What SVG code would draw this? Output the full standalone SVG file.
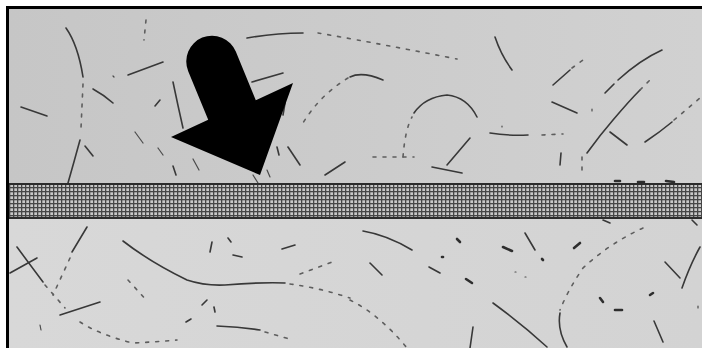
<svg xmlns="http://www.w3.org/2000/svg" width="702" height="348" viewBox="0 0 702 348">
<defs>
<style>
.f{fill:none;stroke:#383838;stroke-width:1.6;stroke-linecap:round}
.t{fill:none;stroke:#4a4a4a;stroke-width:1.2;stroke-linecap:round}
.d{fill:none;stroke:#5e5e5e;stroke-width:1.6;stroke-linecap:round;stroke-dasharray:3 7}
.k{fill:none;stroke:#2e2e2e;stroke-width:2.6;stroke-linecap:round}
</style>
<linearGradient id="gTop" x1="0" y1="0" x2="1" y2="0">
<stop offset="0" stop-color="#c6c6c6"/>
<stop offset="1" stop-color="#d1d1d1"/>
</linearGradient>
<linearGradient id="gBot" x1="0" y1="0" x2="1" y2="0">
<stop offset="0" stop-color="#d8d8d8"/>
<stop offset="1" stop-color="#d3d3d3"/>
</linearGradient>
<pattern id="mesh" x="9" y="183" width="4" height="4" patternUnits="userSpaceOnUse">
<rect width="4" height="4" fill="#c8c8c8"/>
<rect x="0" y="0" width="1.3" height="4" fill="#464646"/>
<rect x="0" y="0" width="4" height="1.3" fill="#464646"/>
</pattern>
</defs>
<rect width="702" height="348" fill="#ffffff"/>
<rect x="9" y="9" width="693" height="175" fill="url(#gTop)"/>
<rect x="9" y="218" width="693" height="130" fill="url(#gBot)"/>

<g id="fibers-top">
<path class="f" d="M66 28 Q78 45 83 77"/>
<path class="d" d="M83 84 L81 128"/>
<path class="f" d="M80 140 Q74 162 68 183"/>
<path class="f" d="M21 107 L47 116"/>
<path class="f" d="M93 89 Q104 95 113 103"/>
<path class="f" d="M128 75 L163 62"/>
<path class="t" d="M113 76 L114 77"/>
<path class="d" d="M146 20 L144 40"/>
<path class="f" d="M173 82 Q178 106 183 128"/>
<path class="f" d="M155 106 L160 100"/>
<path class="f" d="M85 146 L93 156"/>
<path class="t" d="M135 132 L143 143"/>
<path class="t" d="M158 148 L163 155"/>
<path class="f" d="M173 166 L176 175"/>
<path class="t" d="M193 159 L199 170"/>
<path class="f" d="M247 38 Q275 33 303 33"/>
<path class="d" d="M318 33 Q360 40 457 59"/>
<path class="f" d="M252 82 L283 73"/>
<path class="f" d="M285 103 L283 115"/>
<path class="f" d="M383 80 Q362 71 350 77"/>
<path class="d" d="M348 78 Q320 95 303 123"/>
<path class="f" d="M277 147 L279 155"/>
<path class="f" d="M288 147 L300 165"/>
<path class="f" d="M325 175 L345 162"/>
<path class="t" d="M267 170 L270 177"/>
<path class="t" d="M253 175 L258 183"/>
<path class="f" d="M495 37 Q501 55 512 70"/>
<path class="d" d="M403 157 Q405 130 412 117"/>
<path class="f" d="M414 113 Q425 97 447 95 Q467 97 477 117"/>
<path class="d" d="M373 157 L414 157"/>
<path class="f" d="M447 165 L470 138"/>
<path class="f" d="M432 167 L462 173"/>
<path class="f" d="M490 133 Q508 136 528 135"/>
<path class="t" d="M502 126 L502 127"/>
<path class="d" d="M542 135 L563 134"/>
<path class="f" d="M553 85 L570 70"/>
<path class="d" d="M572 68 L583 60"/>
<path class="f" d="M552 102 L577 113"/>
<path class="t" d="M592 109 L592 111"/>
<path class="f" d="M561 153 L560 165"/>
<path class="d" d="M582 157 L582 175"/>
<path class="f" d="M587 153 Q600 135 613 120 Q630 100 640 90"/>
<path class="d" d="M640 90 L650 80"/>
<path class="f" d="M605 93 L614 84"/>
<path class="f" d="M618 80 Q640 60 662 50"/>
<path class="f" d="M610 132 L627 145"/>
<path class="f" d="M645 142 Q660 132 672 122"/>
<path class="d" d="M674 120 L700 98"/>
</g>

<g id="fibers-bottom">
<path class="f" d="M17 247 Q28 262 43 282"/>
<path class="d" d="M45 285 L65 308"/>
<path class="f" d="M10 273 L37 258"/>
<path class="f" d="M87 227 Q78 242 72 252"/>
<path class="d" d="M70 258 L53 295"/>
<path class="f" d="M60 315 L100 302"/>
<path class="f" d="M123 241 Q150 262 187 280 Q205 286 225 285 Q262 282 285 283"/>
<path class="d" d="M290 284 Q320 288 350 298"/>
<path class="d" d="M128 280 L148 302"/>
<path class="d" d="M80 322 Q100 335 133 343 Q155 342 177 340"/>
<path class="f" d="M212 242 L210 252"/>
<path class="f" d="M228 238 L231 242"/>
<path class="f" d="M233 255 L242 257"/>
<path class="f" d="M282 249 L295 245"/>
<path class="d" d="M300 274 L332 262"/>
<path class="f" d="M202 305 L207 300"/>
<path class="f" d="M214 307 L215 312"/>
<path class="f" d="M186 322 L191 319"/>
<path class="f" d="M217 326 Q240 327 260 330"/>
<path class="d" d="M265 332 L293 340"/>
<path class="t" d="M40 325 L41 330"/>
<path class="f" d="M363 231 Q387 235 412 250"/>
<path class="f" d="M370 263 L382 275"/>
<path class="f" d="M429 267 L440 273"/>
<path class="k" d="M466 279 L472 283"/>
<path class="k" d="M457 239 L460 242"/>
<path class="k" d="M442 257 L443 257"/>
<path class="k" d="M503 247 L512 251"/>
<path class="f" d="M525 233 L535 250"/>
<path class="k" d="M542 259 L543 260"/>
<path class="k" d="M574 248 L580 243"/>
<path class="t" d="M515 272 L516 272"/>
<path class="t" d="M525 277 L526 277"/>
<path class="d" d="M643 228 Q610 243 583 268 Q568 290 560 310"/>
<path class="f" d="M560 313 Q557 330 567 347"/>
<path class="f" d="M493 303 Q523 325 547 347"/>
<path class="d" d="M350 300 Q380 315 407 348"/>
<path class="f" d="M473 327 L470 348"/>
<path class="k" d="M600 298 L603 302"/>
<path class="k" d="M615 310 L622 310"/>
<path class="k" d="M650 295 L653 293"/>
<path class="f" d="M665 262 L680 278"/>
<path class="f" d="M700 247 Q690 265 682 288"/>
<path class="f" d="M654 321 L663 342"/>
<path class="f" d="M603 220 L610 223"/>
<path class="f" d="M692 220 L697 225"/>
<path class="t" d="M698 306 L698 308"/>
</g>

<g id="band">
<rect x="9" y="183" width="693" height="36" fill="url(#mesh)"/>
<rect x="9" y="183" width="693" height="2" fill="#2c2c2c"/>
<rect x="9" y="217" width="693" height="2" fill="#2c2c2c"/>
<path class="k" d="M615 181 L620 181 M638 182 L644 182 M666 181 L674 182"/>
</g>

<g id="arrow">
<path d="M235.8 51.6 L255.8 100.2 L293 83 L260 175 L171 137 L208.2 119.8 L188.2 71.2 A25.7 25.7 0 0 1 235.8 51.6 Z" fill="#000000"/>
</g>

<g id="frame">
<rect x="6" y="6" width="696" height="3" fill="#000000"/>
<rect x="6" y="6" width="3" height="342" fill="#000000"/>
</g>
</svg>
